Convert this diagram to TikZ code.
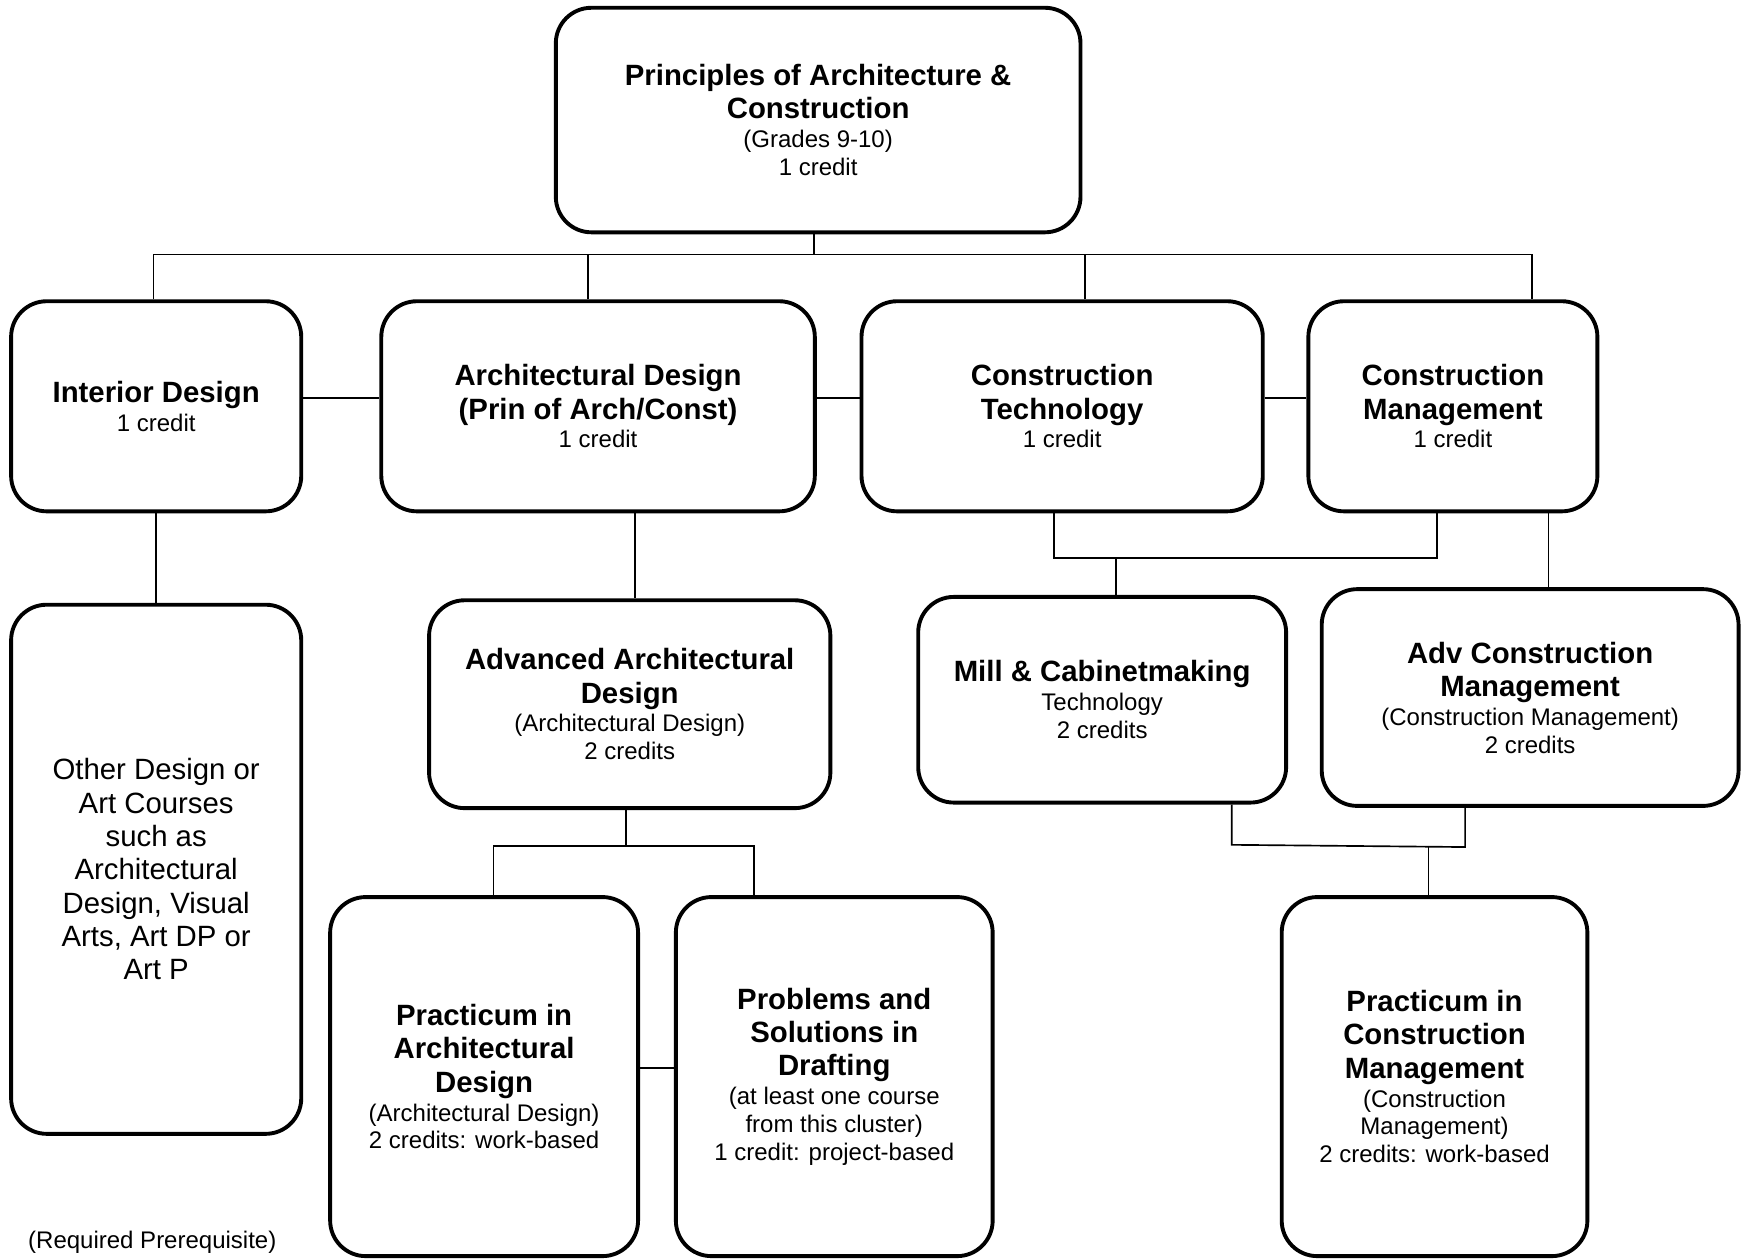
\documentclass[tikz,border=0pt]{standalone}
\usepackage{fontspec}
\setmainfont{Liberation Sans}
\newcommand\cttl{\fontsize{13.2}{15}\selectfont\bfseries}
\newcommand\csml{\fontsize{10.8}{12.5}\selectfont\mdseries}
\newcommand\creg{\fontsize{13.2}{15}\selectfont\mdseries}
\begin{document}
\begin{tikzpicture}[x=0.5pt,y=-0.5pt,
  box/.style={draw, line width=1.75pt, rounded corners=16pt, align=center, inner sep=0pt, fill=white,
    font=\fontsize{13.2}{15}\selectfont},
  link/.style={line width=0.75pt}]
\useasboundingbox (0,0) rectangle (1568,1133);

% boxes
\node[box, minimum width=236pt, minimum height=101pt] (top) at (736,108)
  {\cttl Principles of Architecture \&\\\cttl Construction\\[-2pt]\csml (Grades 9-10)\\[-2.5pt]\csml 1 credit};
\node[box, minimum width=130.5pt, minimum height=94.5pt] (interior) at (140.5,365.5)
  {\cttl Interior Design\\[-2pt]\csml 1 credit};
\node[box, minimum width=195pt, minimum height=94.5pt] (arch) at (538,365.5)
  {\cttl Architectural Design\\\cttl (Prin of Arch/Const)\\[-2pt]\csml 1 credit};
\node[box, minimum width=180.5pt, minimum height=94.5pt] (ctech) at (955.5,365.5)
  {\cttl Construction\\\cttl Technology\\[-2pt]\csml 1 credit};
\node[box, minimum width=130pt, minimum height=94.5pt] (cmgmt) at (1307,365.5)
  {\cttl Construction\\\cttl Management\\[-2pt]\csml 1 credit};
\node[box, minimum width=130.5pt, minimum height=238pt] (other) at (140.5,782)
  {\creg Other Design or\\\creg Art Courses\\\creg such as\\\creg Architectural\\\creg Design, Visual\\\creg Arts, Art DP or\\\creg Art P};
\node[box, minimum width=180.5pt, minimum height=93.5pt] (advarch) at (566.5,633.5)
  {\cttl Advanced Architectural\\\cttl Design\\[-2pt]\csml (Architectural Design)\\[-2.5pt]\csml 2 credits};
\node[box, minimum width=165.5pt, minimum height=92.5pt] (mill) at (991.5,629.5)
  {\cttl Mill \& Cabinetmaking\\[-2pt]\csml Technology\\[-2.5pt]\csml 2 credits};
\node[box, minimum width=187.5pt, minimum height=97.5pt] (advcm) at (1376.5,627.5)
  {\cttl Adv Construction\\\cttl Management\\[-2pt]\csml (Construction Management)\\[-2.5pt]\csml 2 credits};
\node[box, minimum width=138.5pt, minimum height=161.5pt] (pracad) at (435.5,968.5)
  {\cttl Practicum in\\\cttl Architectural\\\cttl Design\\[-2pt]\csml (Architectural Design)\\[-2.5pt]\csml 2 credits: work-based};
\node[box, minimum width=142.5pt, minimum height=161.5pt] (prob) at (750.5,968.5)
  {\cttl Problems and\\\cttl Solutions in\\\cttl Drafting\\[-2pt]\csml (at least one course\\[-2.5pt]\csml from this cluster)\\[-2.5pt]\csml 1 credit: project-based};
\node[box, minimum width=137.5pt, minimum height=161.5pt] (praccm) at (1290.5,968.5)
  {\cttl Practicum in\\\cttl Construction\\\cttl Management\\[-2pt]\csml (Construction\\[-2.5pt]\csml Management)\\[-2.5pt]\csml 2 credits: work-based};
\node[inner sep=0pt] (note) at (137,1118) {\csml (Required Prerequisite)};

% junction coordinates
\coordinate (j0) at (732,229);
\coordinate (busL) at (138,229);
\coordinate (busR) at (1378,229);
\coordinate (jA) at (529,229);
\coordinate (jT) at (976,229);
\coordinate (hrow) at (0,358);
\coordinate (xa) at (571,0);
\coordinate (m1) at (948,502);
\coordinate (m2) at (1293,502);
\coordinate (m3) at (1004,502);
\coordinate (xc) at (1393,0);
\coordinate (a1) at (563,761);
\coordinate (a2) at (444,761);
\coordinate (a3) at (678,761);
\coordinate (hrow2) at (0,961);
\coordinate (c1) at (1108,760);
\coordinate (c2) at (1318,762);
\coordinate (c3) at (1285,761);

% connectors
\draw[link] (top.south -| j0) -- (j0);
\draw[link] (interior.north -| busL) -- (busL) -- (busR) -- (cmgmt.north -| busR);
\draw[link] (arch.north -| jA) -- (jA);
\draw[link] (ctech.north -| jT) -- (jT);
\draw[link] (interior.east |- hrow) -- (arch.west |- hrow);
\draw[link] (arch.east |- hrow) -- (ctech.west |- hrow);
\draw[link] (ctech.east |- hrow) -- (cmgmt.west |- hrow);
\draw[link] (interior.south) -- (other.north);
\draw[link] (arch.south -| xa) -- (advarch.north -| xa);
\draw[link] (ctech.south -| m1) -- (m1) -- (m2) -- (cmgmt.south -| m2);
\draw[link] (m3) -- (mill.north -| m3);
\draw[link] (cmgmt.south -| xc) -- (advcm.north -| xc);
\draw[link] (advarch.south -| a1) -- (a1);
\draw[link] (pracad.north -| a2) -- (a2) -- (a3) -- (prob.north -| a3);
\draw[link] (pracad.east |- hrow2) -- (prob.west |- hrow2);
\draw[link] (mill.south -| c1) -- (c1) -- (c2) -- (advcm.south -| c2);
\draw[link] (c3) -- (praccm.north -| c3);
\end{tikzpicture}
\end{document}
